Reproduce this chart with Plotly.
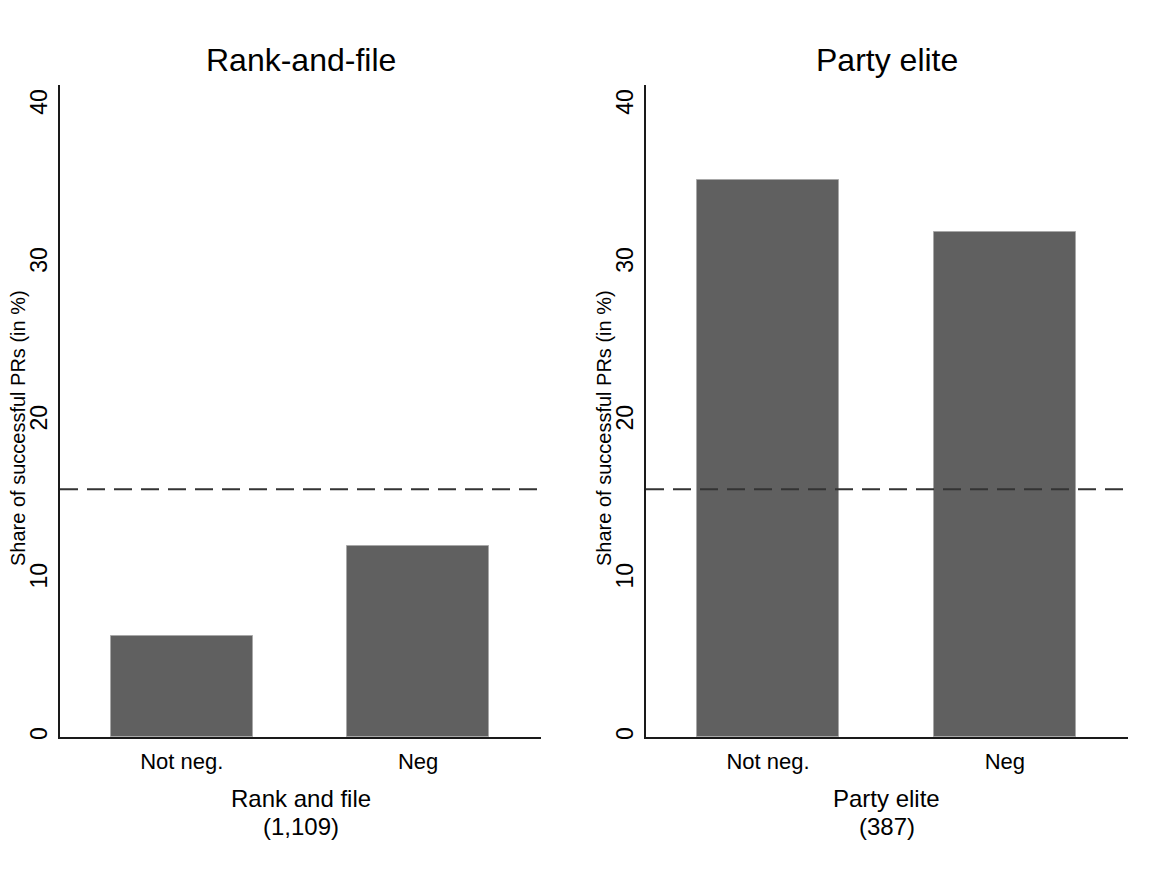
import plotly.graph_objects as go

categories = ["Not neg.", "Neg"]
rank_file_values = [6.4, 12.1]
party_elite_values = [35.3, 32.0]
overall_share = 15.7
panel_titles = ["Rank-and-file", "Party elite"]
x_title_lines = [["Rank and file", "(1,109)"], ["Party elite", "(387)"]]
y_title = "Share of successful PRs (in %)"
y_ticks = [0, 10, 20, 30, 40]

W, H = 1168, 876
OFFX, OFFY = 8, 8  # page body margin
FONT = "Liberation Sans, Arial, sans-serif"
BAR = "#606060"


def px_x(p):
    return (p - OFFX) / W


def px_y(p):
    return 1 - (p - OFFY) / H


fig = go.Figure()
xpos = list(range(len(categories)))
fig.add_trace(go.Bar(x=xpos, y=rank_file_values, width=0.6, marker=dict(color=BAR, line=dict(color="#a8a8a8", width=1)),
                     xaxis="x", yaxis="y", showlegend=False))
fig.add_trace(go.Bar(x=xpos, y=party_elite_values, width=0.6, marker=dict(color=BAR, line=dict(color="#a8a8a8", width=1)),
                     xaxis="x2", yaxis="y2", showlegend=False))

dom1 = [px_x(60), px_x(541)]
dom2 = [px_x(646), px_x(1128)]
ydom = [px_y(737), px_y(85)]

xcommon = dict(range=[-0.515, 1.52], tickvals=xpos, ticktext=categories, showline=True, linecolor="#1a1a1a",
               linewidth=1.5, ticks="", showgrid=False, zeroline=False, ticklabelstandoff=4, automargin=False,
               tickfont=dict(family=FONT, size=22, color="#000"))
ycommon = dict(range=[0, 41.3], tickvals=y_ticks, showline=True, linecolor="#1a1a1a", linewidth=1.5, ticks="",
               showgrid=False, zeroline=False, tickangle=-90, ticklabelstandoff=2, automargin=False,
               tickfont=dict(family=FONT, size=23, color="#000"))

fig.update_layout(
    template="none",
    width=W, height=H, margin=dict(l=0, r=0, t=0, b=0, autoexpand=False),
    plot_bgcolor="white", paper_bgcolor="white", bargap=0,
    xaxis=dict(domain=dom1, anchor="y", **xcommon),
    xaxis2=dict(domain=dom2, anchor="y2", **xcommon),
    yaxis=dict(domain=ydom, anchor="x", **ycommon),
    yaxis2=dict(domain=ydom, anchor="x2", **ycommon),
)

for i, (xr, yr, dom) in enumerate([("x", "y", dom1), ("x2", "y2", dom2)]):
    fig.add_shape(type="line", xref=f"{xr} domain", yref=yr, x0=0, x1=1, y0=overall_share, y1=overall_share,
                  line=dict(color="#333", width=2, dash="18px,9px"), layer="above")
    cx = (dom[0] + dom[1]) / 2
    fig.add_annotation(text=panel_titles[i], x=cx, y=px_y(60), xref="paper", yref="paper",
                       showarrow=False, font=dict(family=FONT, size=32, color="#000"), xanchor="center", yanchor="middle")
    for line_text, py in zip(x_title_lines[i], [798, 826]):
        fig.add_annotation(text=line_text, x=cx, y=px_y(py), xref="paper", yref="paper",
                           showarrow=False, font=dict(family=FONT, size=24, color="#000"), xanchor="center", yanchor="middle")
    fig.add_annotation(text=y_title, x=dom[0] - px_x(60) + px_x(18), y=px_y(428), xref="paper", yref="paper", textangle=-90,
                       showarrow=False, font=dict(family=FONT, size=20, color="#000"), xanchor="center", yanchor="middle")

fig.write_html("out.html")
